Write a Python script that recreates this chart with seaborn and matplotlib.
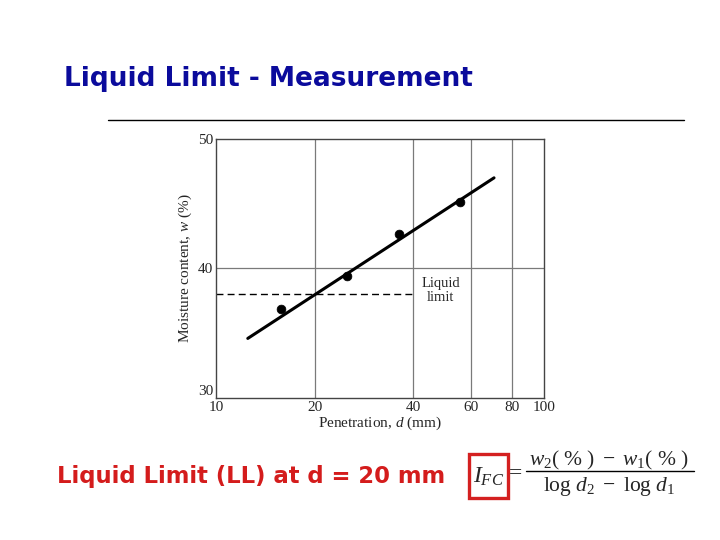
import matplotlib
matplotlib.use("Agg")
import matplotlib.pyplot as plt
import numpy as np
import pandas as pd
import seaborn as sns
from matplotlib.lines import Line2D
from matplotlib.patches import Rectangle

# %% DATA
pen_d = [15.8, 25.1, 36.1, 55.5]      # penetration (mm)
moist_w = [36.9, 39.4, 42.7, 45.1]    # moisture content (%)
fit_d = [12.5, 70.4]
fit_w = [34.6, 47.0]
ll_d = [10, 40]
ll_w = [38.0, 38.0]
xticks = [10, 20, 40, 60, 80, 100]
yticks = [30, 40, 50]

pts = pd.DataFrame({"d": pen_d, "w": moist_w})
fit = pd.DataFrame({"d": fit_d, "w": fit_w})

# %% STYLE
sns.set_theme(style="white")
plt.rcParams["font.family"] = ["Liberation Serif", "DejaVu Serif"]
plt.rcParams["mathtext.fontset"] = "custom"
plt.rcParams["mathtext.rm"] = "Liberation Serif"
plt.rcParams["mathtext.it"] = "Liberation Serif:italic"

fig = plt.figure(figsize=(7.2, 5.4), dpi=100)
fig.patch.set_facecolor("white")
ax = fig.add_axes([0.300, 0.263, 0.4556, 0.4796])

# %% PLOT
ax.set_xscale("log")
sns.lineplot(data=fit, x="d", y="w", ax=ax, color="black", lw=2.2)
sns.scatterplot(data=pts, x="d", y="w", ax=ax, color="black", s=40,
                edgecolor="black", zorder=5)
ax.plot(ll_d, ll_w, color="black", lw=1.0, ls=(0, (5, 3)))
ax.text(48.5, 38.3, "Liquid\nlimit", fontsize=10.5, ha="center",
        va="center", multialignment="center", linespacing=1.05)

ax.set_xlim(10, 100)
ax.set_ylim(30, 50)
ax.set_xticks(xticks)
ax.set_xticklabels([str(t) for t in xticks])
ax.minorticks_off()
ax.set_yticks(yticks)
for v in xticks[1:-1]:
    ax.axvline(v, color="#7a7a7a", lw=0.9, zorder=0)
ax.axhline(40, color="#7a7a7a", lw=0.9, zorder=0)
ax.tick_params(length=0, labelsize=11, pad=2)
# bottom y label sits just above the corner, as in the source figure
ax.get_yticklabels()[0].set_va("bottom")
for s in ax.spines.values():
    s.set_color("#444444")
    s.set_linewidth(1.0)
ax.set_xlabel(r"Penetration, $\it{d}$ (mm)", fontsize=11, labelpad=1)
ax.set_ylabel(r"Moisture content, $\it{w}$ (%)", fontsize=11, labelpad=3)

# %% SLIDE TEXT
fig.text(64 / 720, 1 - 86 / 540, "Liquid Limit - Measurement",
         fontsize=19, fontweight="bold", color="#0b0b9c",
         family="DejaVu Sans", ha="left", va="baseline")
fig.add_artist(Line2D([108 / 720, 684 / 720], [1 - 120 / 540] * 2,
                      color="black", lw=1.0))
fig.text(57 / 720, 1 - 483 / 540, "Liquid Limit (LL) at d = 20 mm",
         fontsize=16.4, fontweight="bold", color="#d41c1c",
         family="DejaVu Sans", ha="left", va="baseline")

fig.add_artist(Rectangle((469 / 720, 1 - 498 / 540), 39 / 720, 44 / 540,
                         fill=False, edgecolor="#d42020", lw=2.4))
fig.text(489 / 720, 1 - 477 / 540, r"$I_{FC}$", fontsize=17,
         ha="center", va="center")
fig.text(516 / 720, 1 - 474 / 540, "=", fontsize=17, ha="center", va="center")
fig.text(609 / 720, 1 - 460 / 540, r"$w_2(\ \%\ )\ -\ w_1(\ \%\ )$",
         fontsize=15.5, ha="center", va="center")
fig.add_artist(Line2D([526 / 720, 694 / 720], [1 - 471 / 540] * 2,
                      color="black", lw=1.0))
fig.text(609 / 720, 1 - 486 / 540, r"$\mathrm{log}\ d_2\ -\ \mathrm{log}\ d_1$",
         fontsize=15.5, ha="center", va="center")

fig.savefig("out.png", dpi=100, facecolor="white")
